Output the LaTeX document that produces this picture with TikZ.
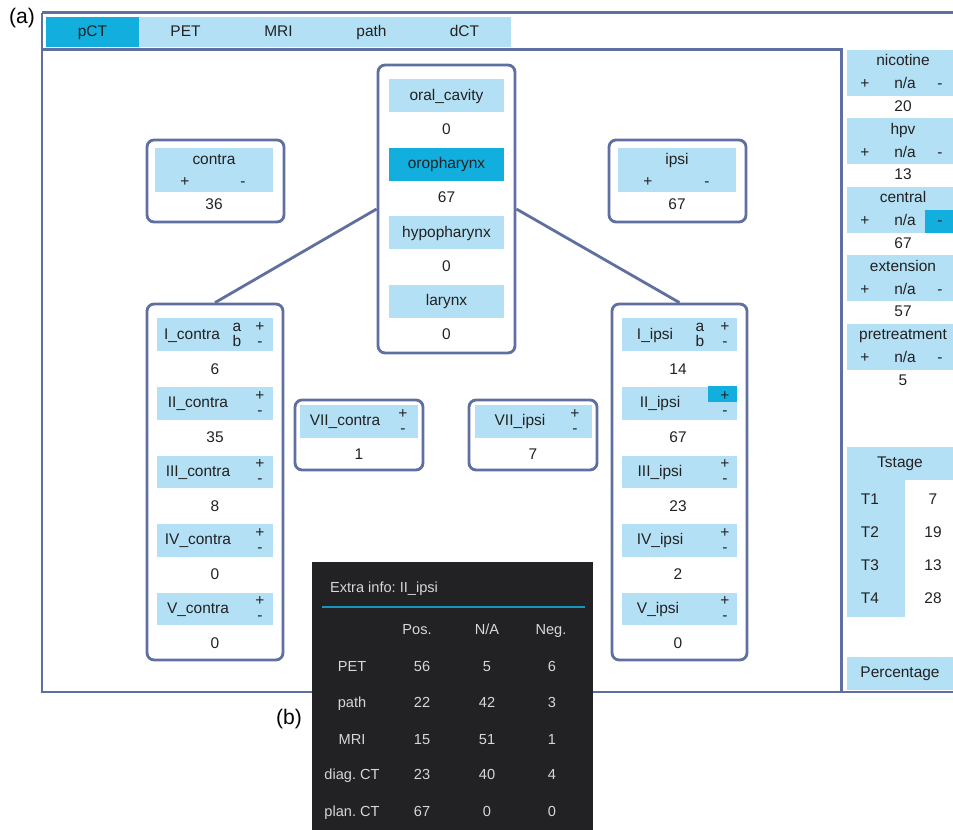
\documentclass[tikz,border=0pt]{standalone}
\usepackage{fontspec}
\setmainfont{Liberation Sans}
\frenchspacing

\definecolor{paleblue}{RGB}{179,224,245}
\definecolor{deepblue}{RGB}{18,174,222}
\definecolor{framecol}{RGB}{95,112,160}
\definecolor{tipbg}{RGB}{34,34,36}
\definecolor{tiptext}{RGB}{215,215,215}
\definecolor{tipline}{RGB}{20,150,190}
\definecolor{txt}{RGB}{34,34,34}

\tikzset{
  frame/.style={draw=framecol,line width=1.7pt},
  panel/.style={draw=framecol,line width=1.6pt,rounded corners=4pt,fill=white,inner sep=0pt},
  hdr/.style={fill=paleblue,inner sep=0pt,minimum width=2.32cm,minimum height=0.66cm},
  tab/.style={fill=paleblue,inner sep=0pt,minimum width=1.86cm,minimum height=0.6cm},
  band/.style={fill=paleblue,inner sep=0pt,minimum width=2.12cm,minimum height=0.92cm},
}

\begin{document}
\begin{tikzpicture}[x=0.02cm,y=-0.02cm,
    every node/.style={font=\fontsize{8.8}{10}\selectfont,text=txt,inner sep=1pt,
      text height=6.4pt,text depth=1.8pt}]
  \useasboundingbox (0,0) rectangle (953,830);

  % frame
  \draw[frame] (42,13) -- (953,13);
  \draw[frame] (42,13) -- (42,692) -- (953,692);
  \draw[frame] (42,50) -- (841,50) -- (841,692);
  \node[font=\fontsize{12}{14}\selectfont,text=black,text height=8.6pt,text depth=2.4pt] (lbla) at (22,18) {(a)};

  % tabs
  \node (tabpct) [tab,fill=deepblue] at (92.5,32) {pCT};
  \node (tabpet) [tab] at (185.5,32) {PET};
  \node (tabmri) [tab] at (278.5,32) {MRI};
  \node (tabpath) [tab] at (371.5,32) {path};
  \node (tabdct) [tab] at (464.5,32) {dCT};

  % boxes
  \node (sitebox) [panel,minimum width=2.74cm,minimum height=5.76cm] at (446.5,209) {};
  \node (contrabox) [panel,minimum width=2.74cm,minimum height=1.64cm] at (215.5,181) {};
  \node (ipsibox) [panel,minimum width=2.74cm,minimum height=1.64cm] at (677.5,181) {};
  \node (contracol) [panel,minimum width=2.72cm,minimum height=7.12cm] at (215,482) {};
  \node (ipsicol) [panel,minimum width=2.7cm,minimum height=7.12cm] at (679.5,482) {};
  \node (viicbox) [panel,minimum width=2.56cm,minimum height=1.4cm] at (359,435) {};
  \node (viiibox) [panel,minimum width=2.56cm,minimum height=1.4cm] at (533,435) {};
  \draw[framecol,line width=1.6pt] (sitebox.west) -- (contracol.north);
  \draw[framecol,line width=1.6pt] (sitebox.east) -- (ipsicol.north);

  % tumour site
  \node (oral) [hdr] at (446.5,96) {oral\_cavity};
  \node (oraln) at (446.5,130) {0};
  \node (oro) [hdr,fill=deepblue] at (446.5,164.5) {oropharynx};
  \node (oron) at (446.5,198.5) {67};
  \node (hypo) [hdr] at (446.5,233) {hypopharynx};
  \node (hypon) at (446.5,267) {0};
  \node (lar) [hdr] at (446.5,301.5) {larynx};
  \node (larn) at (446.5,335.5) {0};

  % contra / ipsi
  \node (contrah) [hdr,minimum width=2.36cm,minimum height=0.88cm] at (214,170) {};
  \node at (214,160) {contra};
  \node at (185,182) {+};
  \node at (243,182) {-};
  \node at (214,205) {36};
  \node (ipsih) [hdr,minimum width=2.36cm,minimum height=0.88cm] at (677,170) {};
  \node at (677,160) {ipsi};
  \node at (648,182) {+};
  \node at (707,182) {-};
  \node at (677,205) {67};

  % contralateral levels
  \begin{scope}[every node/.append style={inner sep=0pt}]
  \node (lic) [hdr] at (215,335) {};
  \node at (192,335) {I\_contra};
  \node at (237,327.5) {a};
  \node at (237,342.5) {b};
  \node at (260,327.5) {+};
  \node at (260,342.5) {-};
  \node at (215,370) {6};
  \node (liic) [hdr] at (215,403.5) {};
  \node at (198,403.5) {II\_contra};
  \node at (260,396) {+};
  \node at (260,411) {-};
  \node at (215,438.5) {35};
  \node (liiic) [hdr] at (215,472) {};
  \node at (198,472) {III\_contra};
  \node at (260,464.5) {+};
  \node at (260,479.5) {-};
  \node at (215,507) {8};
  \node (livc) [hdr] at (215,540.5) {};
  \node at (198,540.5) {IV\_contra};
  \node at (260,533) {+};
  \node at (260,548) {-};
  \node at (215,575.5) {0};
  \node (lvc) [hdr] at (215,609) {};
  \node at (198,609) {V\_contra};
  \node at (260,601.5) {+};
  \node at (260,616.5) {-};
  \node at (215,644) {0};

  % ipsilateral levels
  \node (lii) [hdr] at (679.5,335) {};
  \node at (655,335) {I\_ipsi};
  \node at (700,327.5) {a};
  \node at (700,342.5) {b};
  \node at (725,327.5) {+};
  \node at (725,342.5) {-};
  \node at (678,370) {14};
  \node (liii) [hdr] at (679.5,403.5) {};
  \node (liiisel) [fill=deepblue,minimum width=0.58cm,minimum height=0.32cm] at (722.5,394) {};
  \node at (660,403.5) {II\_ipsi};
  \node at (725,396) {+};
  \node at (725,411) {-};
  \node at (678,438.5) {67};
  \node (liiii) [hdr] at (679.5,472) {};
  \node at (660,472) {III\_ipsi};
  \node at (725,464.5) {+};
  \node at (725,479.5) {-};
  \node at (678,507) {23};
  \node (livi) [hdr] at (679.5,540.5) {};
  \node at (660,540.5) {IV\_ipsi};
  \node at (725,533) {+};
  \node at (725,548) {-};
  \node at (678,575.5) {2};
  \node (lvi) [hdr] at (679.5,609) {};
  \node at (658,609) {V\_ipsi};
  \node at (725,601.5) {+};
  \node at (725,616.5) {-};
  \node at (678,644) {0};

  % level VII
  \node (lviic) [hdr,minimum width=2.36cm] at (359,421.5) {};
  \node at (345,421.5) {VII\_contra};
  \node at (403,414) {+};
  \node at (403,429) {-};
  \node at (359,455) {1};
  \node (lviii) [hdr,minimum width=2.34cm] at (533.5,421.5) {};
  \node at (520,421.5) {VII\_ipsi};
  \node at (575,414) {+};
  \node at (575,429) {-};
  \node at (533,455) {7};
  \end{scope}

  % right panel
  \begin{scope}[every node/.append style={inner sep=0pt}]
  \node (nic) [band] at (900,73) {};
  \node at (903,61.5) {nicotine};
  \node at (865,84.5) {+};
  \node at (905,84.5) {n/a};
  \node at (940,84.5) {-};
  \node at (903,107) {20};
  \node (hpv) [band] at (900,141.5) {};
  \node at (903,130) {hpv};
  \node at (865,153) {+};
  \node at (905,153) {n/a};
  \node at (940,153) {-};
  \node at (903,175.5) {13};
  \node (cen) [band] at (900,210) {};
  \node (censel) [fill=deepblue,minimum width=0.56cm,minimum height=0.46cm] at (939,221.5) {};
  \node at (903,198.5) {central};
  \node at (865,221.5) {+};
  \node at (905,221.5) {n/a};
  \node at (940,221.5) {-};
  \node at (903,244) {67};
  \node (ext) [band] at (900,278.5) {};
  \node at (903,267) {extension};
  \node at (865,290) {+};
  \node at (905,290) {n/a};
  \node at (940,290) {-};
  \node at (903,312.5) {57};
  \node (pre) [band] at (900,347) {};
  \node at (903,335.5) {pretreatment};
  \node at (865,358.5) {+};
  \node at (905,358.5) {n/a};
  \node at (940,358.5) {-};
  \node at (903,381) {5};

  \node (tst) [band,minimum height=0.66cm] at (900,463.5) {Tstage};
  \node (tcol) [fill=paleblue,minimum width=1.16cm,minimum height=2.74cm] at (876,548.5) {};
  \node at (870,500) {T1};
  \node at (933,500) {7};
  \node at (870,533) {T2};
  \node at (933,533) {19};
  \node at (870,566) {T3};
  \node at (933,566) {13};
  \node at (870,599) {T4};
  \node at (933,599) {28};
  \node (perc) [band,minimum height=0.66cm] at (900,673.5) {Percentage};
  \end{scope}

  % tooltip
  \fill[tipbg] (312,562) rectangle (593,830);
  \draw[tipline,line width=1.2pt] (322,607) -- (585,607);
  \begin{scope}[every node/.append style={text=tiptext,font=\fontsize{8.3}{10}\selectfont}]
  \node[anchor=west] (tiptitle) at (328,588) {Extra info: II\_ipsi};
  \node at (417,630) {Pos.};
  \node at (487,630) {N/A};
  \node at (551,630) {Neg.};
  \node at (352,667) {PET};
  \node at (422,667) {56};
  \node at (487,667) {5};
  \node at (552,667) {6};
  \node at (352,703) {path};
  \node at (422,703) {22};
  \node at (487,703) {42};
  \node at (552,703) {3};
  \node at (352,740) {MRI};
  \node at (422,740) {15};
  \node at (487,740) {51};
  \node at (552,740) {1};
  \node at (352,775) {diag. CT};
  \node at (422,775) {23};
  \node at (487,775) {40};
  \node at (552,775) {4};
  \node at (352,812) {plan. CT};
  \node at (422,812) {67};
  \node at (487,812) {0};
  \node at (552,812) {0};
  \end{scope}
  \node[font=\fontsize{12}{14}\selectfont,text=black,text height=8.6pt,text depth=2.4pt] (lblb) at (289,719) {(b)};
\end{tikzpicture}
\end{document}
